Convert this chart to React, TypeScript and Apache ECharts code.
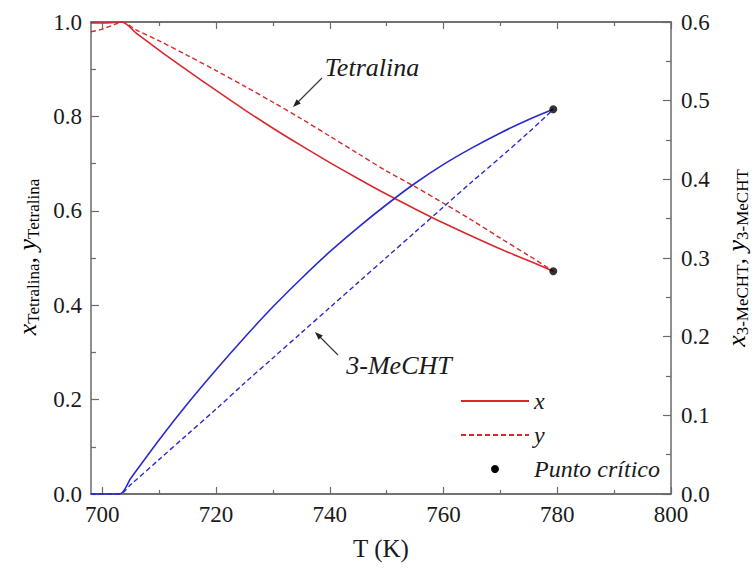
import React, { useEffect, useRef } from "react";
import * as echarts from "echarts";

// Temperature (K) grid for the Tetralina curves
const T_RED = [698, 700, 702, 703.4, 706, 710, 715, 720, 725, 730, 735, 740, 745, 750, 755, 760, 765, 770, 775, 779.3];
// x_Tetralina (liquid) and y_Tetralina (vapour), left axis
const X_TET = [0.998, 0.998, 0.999, 1.0, 0.976, 0.94, 0.897, 0.855, 0.814, 0.775, 0.738, 0.702, 0.668, 0.635, 0.604, 0.574, 0.546, 0.519, 0.494, 0.472];
const Y_TET = [0.979, 0.985, 0.994, 1.0, 0.983, 0.96, 0.929, 0.897, 0.864, 0.83, 0.795, 0.758, 0.721, 0.684, 0.651, 0.616, 0.58, 0.542, 0.505, 0.472];

// Temperature grid for the 3-MeCHT curves
const T_BLUE = [698, 703, 705, 710, 715, 720, 725, 730, 735, 740, 745, 750, 755, 760, 765, 770, 775, 779.3];
// x_3-MeCHT and y_3-MeCHT, right axis
const X_ME = [0, 0, 0.02, 0.069, 0.115, 0.158, 0.199, 0.238, 0.274, 0.308, 0.339, 0.368, 0.395, 0.419, 0.44, 0.459, 0.476, 0.489];
const Y_ME = [0, 0, 0.012, 0.044, 0.076, 0.108, 0.141, 0.173, 0.205, 0.237, 0.269, 0.301, 0.333, 0.365, 0.397, 0.428, 0.46, 0.489];

// Critical point
const T_CRIT = 779.3;
const CRIT_TET = 0.472;
const CRIT_ME = 0.489;

// Axis ticks
const X_MAJOR = [700, 720, 740, 760, 780, 800];
const X_MINOR = [710, 730, 750, 770, 790];

const RED = "#d8282c";
const BLUE = "#2a2ad0";
const AXIS = "#6a6a6a";
const FONT = "Liberation Serif";

const zip = (a: number[], b: number[]) => a.map((v, i) => [v, b[i]]);

export default function App() {
  const ref = useRef<HTMLDivElement>(null);
  useEffect(() => {
    if (!ref.current) return;
    const chart = echarts.init(ref.current, null, { renderer: "svg" });

    const xAxisBase = (position: "top" | "bottom", values: number[], len: number, labels: boolean) => ({
      type: "value",
      position,
      min: 698,
      max: 800,
      offset: 0,
      axisLine: { show: true, lineStyle: { color: AXIS, width: 1.5 } },
      axisTick: { show: true, inside: true, length: len, customValues: values, lineStyle: { color: AXIS, width: 1.2 } },
      axisLabel: {
        show: labels,
        customValues: values,
        margin: 9,
        color: "#1a1a1a",
        fontFamily: FONT,
        fontSize: 23,
      },
      splitLine: { show: false },
    });

    const rich = {
      i: { fontFamily: FONT, fontStyle: "italic", fontSize: 26, lineHeight: 30, verticalAlign: "middle", color: "#1a1a1a" },
      s: { fontFamily: FONT, fontSize: 17, lineHeight: 17, verticalAlign: "bottom", color: "#1a1a1a" },
    };

    const option: any = {
      animation: false,
      grid: { left: 91, right: 83, top: 22, bottom: 75, containLabel: false },
      xAxis: [
        xAxisBase("bottom", X_MAJOR, 7, true),
        xAxisBase("bottom", X_MINOR, 4, false),
        xAxisBase("top", X_MAJOR, 7, false),
        xAxisBase("top", X_MINOR, 4, false),
      ],
      yAxis: [
        {
          type: "value",
          position: "left",
          min: 0,
          max: 1,
          interval: 0.2,
          axisLine: { show: true, lineStyle: { color: AXIS, width: 1.5 } },
          axisTick: { show: true, inside: true, length: 8, lineStyle: { color: AXIS, width: 1.2 } },
          minorTick: { show: true, splitNumber: 2, length: 5, lineStyle: { color: AXIS, width: 1.2 } },
          axisLabel: { margin: 9, color: "#1a1a1a", fontFamily: FONT, fontSize: 23, formatter: (v: number) => v.toFixed(1) },
          splitLine: { show: false },
        },
        {
          type: "value",
          position: "right",
          min: 0,
          max: 0.6,
          interval: 0.1,
          axisLine: { show: true, lineStyle: { color: AXIS, width: 1.5 } },
          axisTick: { show: true, inside: true, length: 8, lineStyle: { color: AXIS, width: 1.2 } },
          minorTick: { show: true, splitNumber: 2, length: 5, lineStyle: { color: AXIS, width: 1.2 } },
          axisLabel: { margin: 10, color: "#1a1a1a", fontFamily: FONT, fontSize: 23, formatter: (v: number) => v.toFixed(1) },
          splitLine: { show: false },
        },
      ],
      legend: {
        orient: "vertical",
        left: 460,
        top: 389,
        padding: 0,
        itemWidth: 68,
        itemHeight: 8,
        itemGap: 10,
        itemStyle: { opacity: 0 },
        data: ["x", "y", { name: "Punto crítico", itemStyle: { opacity: 1, color: "#000" } }],
        textStyle: { fontFamily: FONT, fontStyle: "italic", fontSize: 24, color: "#1a1a1a" },
      },
      series: [
        {
          name: "x",
          type: "line",
          xAxisIndex: 0,
          yAxisIndex: 0,
          data: zip(T_RED, X_TET),
          smooth: 0.3,
          showSymbol: false,
          symbol: "none",
          lineStyle: { color: RED, width: 1.6 },
          itemStyle: { color: RED },
        },
        {
          name: "y",
          type: "line",
          xAxisIndex: 0,
          yAxisIndex: 0,
          data: zip(T_RED, Y_TET),
          smooth: 0.3,
          showSymbol: false,
          symbol: "none",
          lineStyle: { color: RED, width: 1.4, type: [5, 3] },
          itemStyle: { color: RED },
        },
        {
          name: "x",
          type: "line",
          xAxisIndex: 0,
          yAxisIndex: 1,
          data: zip(T_BLUE, X_ME),
          smooth: 0.3,
          showSymbol: false,
          symbol: "none",
          lineStyle: { color: BLUE, width: 1.6 },
          itemStyle: { color: BLUE },
        },
        {
          name: "y",
          type: "line",
          xAxisIndex: 0,
          yAxisIndex: 1,
          data: zip(T_BLUE, Y_ME),
          smooth: 0.3,
          showSymbol: false,
          symbol: "none",
          lineStyle: { color: BLUE, width: 1.4, type: [5, 3] },
          itemStyle: { color: BLUE },
        },
        {
          name: "Punto crítico",
          type: "scatter",
          xAxisIndex: 0,
          yAxisIndex: 0,
          data: [[T_CRIT, CRIT_TET]],
          symbol: "circle",
          symbolSize: 8,
          itemStyle: { color: "#000" },
          z: 5,
        },
        {
          name: "Punto crítico",
          type: "scatter",
          xAxisIndex: 0,
          yAxisIndex: 1,
          data: [[T_CRIT, CRIT_ME]],
          symbol: "circle",
          symbolSize: 8,
          itemStyle: { color: "#000" },
          z: 5,
        },
      ],
      graphic: [
        // x axis title
        {
          type: "text",
          x: 381,
          y: 548,
          style: { text: "T (K)", fontFamily: FONT, fontSize: 25, fill: "#1a1a1a", align: "center", verticalAlign: "middle" },
        },
        // left y axis title
        {
          type: "text",
          x: 27,
          y: 257,
          rotation: Math.PI / 2,
          style: {
            text: "{i|x}{s|Tetralina}{i|, y}{s|Tetralina}",
            rich,
            align: "center",
            verticalAlign: "middle",
          },
        },
        // right y axis title
        {
          type: "text",
          x: 736,
          y: 258,
          rotation: Math.PI / 2,
          style: {
            text: "{i|x}{s|3-MeCHT}{i|, y}{s|3-MeCHT}",
            rich,
            align: "center",
            verticalAlign: "middle",
          },
        },
        // Tetralina annotation
        {
          type: "text",
          x: 372,
          y: 67,
          style: { text: "Tetralina", fontFamily: FONT, fontStyle: "italic", fontSize: 26, fill: "#1a1a1a", align: "center", verticalAlign: "middle" },
        },
        { type: "line", shape: { x1: 322, y1: 78, x2: 298, y2: 102 }, style: { stroke: "#333", lineWidth: 1.1 } },
        { type: "polygon", shape: { points: [[293, 107], [300.8, 103.4], [296.6, 99.2]] }, style: { fill: "#222" } },
        // 3-MeCHT annotation
        {
          type: "text",
          x: 399,
          y: 365,
          style: { text: "3-MeCHT", fontFamily: FONT, fontStyle: "italic", fontSize: 26, fill: "#1a1a1a", align: "center", verticalAlign: "middle" },
        },
        { type: "line", shape: { x1: 338, y1: 355, x2: 320, y2: 337 }, style: { stroke: "#333", lineWidth: 1.1 } },
        { type: "polygon", shape: { points: [[315, 332], [322.8, 335.6], [318.6, 339.8]] }, style: { fill: "#222" } },
      ],
    };

    chart.setOption(option);
    return () => chart.dispose();
  }, []);

  return <div ref={ref} style={{ position: "fixed", left: 0, top: 0, width: 754, height: 569, background: "#fff" }} />;
}
